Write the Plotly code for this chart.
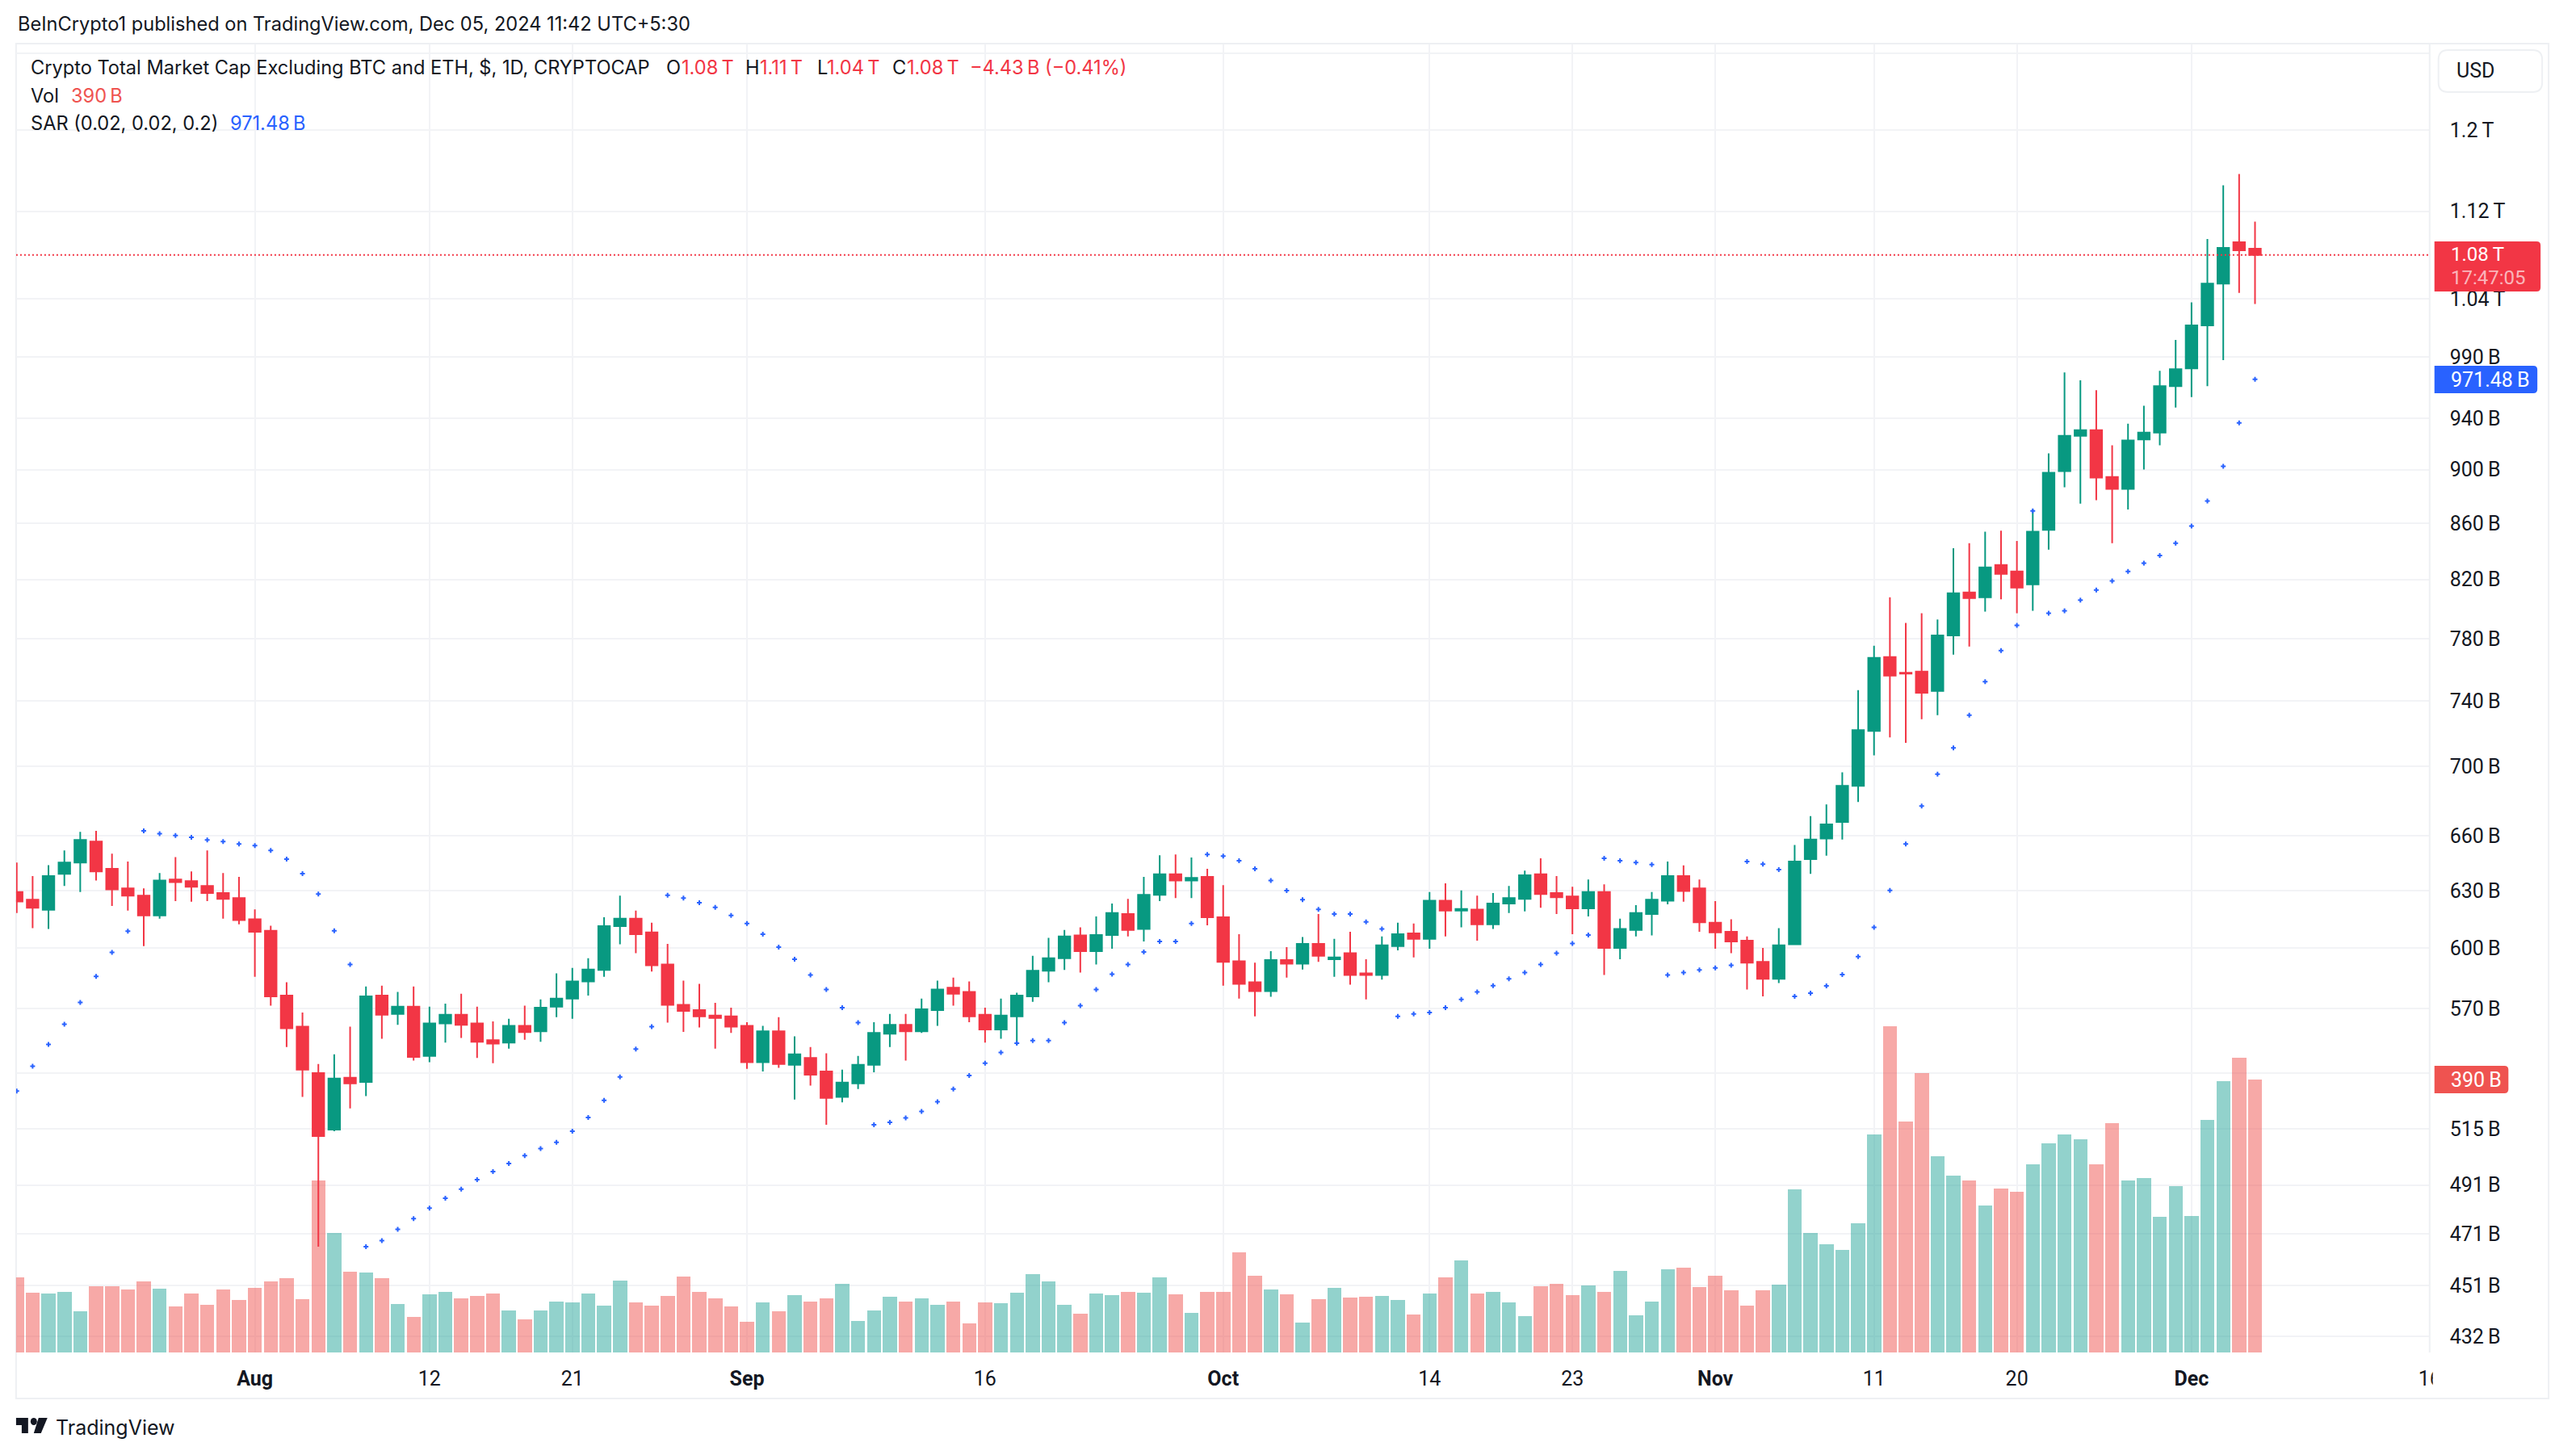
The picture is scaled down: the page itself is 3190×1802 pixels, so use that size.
import pandas as pd
import plotly.graph_objects as go

W, H = 3190, 1802
dates = pd.date_range("2024-07-17", periods=142, freq="D")

open_b = [629.3,625.2,619.9,639.0,645.2,656.8,641.8,631.2,627.4,616.9,
636,635.1,632.5,628.7,626.1,614.9,609,576.5,561.5,539.8,
514.6,537.7,535.8,576.5,567.6,571.1,547.7,563,567.2,563,
555.1,553.9,561.9,559.3,571.1,575,583.4,589.1,611.4,615.3,
608.1,591.8,571.9,569.4,566.8,566.4,561.9,544.8,559.3,543.6,
546.8,540.6,529,535.1,543.6,558.1,562.3,559.3,569.4,580.3,
578.2,567.2,560.1,566.4,576.1,588.7,595,606.6,598.5,606.8,
617.7,609.9,627.8,638.8,635.5,637.4,616,593.5,583,578.6,
594.1,592.2,602.2,594.5,597.5,587.4,586.6,601.1,607.6,604.8,
624.7,619.5,620,612.3,623.2,625.6,638.8,628.7,626.9,620.6,
629.3,600.2,609.4,617.7,624.7,637.8,631.2,613.1,608.5,603.9,
593.1,584.7,602,647.1,658.4,667.7,688.5,721.3,767.8,757.7,
758.5,746.1,782,811,807.7,830.1,825.5,816.6,855.1,898.8,
926,930.5,894.4,885.3,923.2,928.6,965.9,980.5,1016.8,1053.5,
1091.1,1085]

close_b = [624.3,621.0,637.8,645.2,657.7,640.4,630.7,627.4,616.9,635.5,
634.6,632.1,628.7,625.6,614.5,608.5,576.1,560.7,541.4,511.8,
537.3,535.1,576.1,567.2,571.1,547.3,563,567.2,562.3,554.3,
553.5,561.9,558.9,570.6,575,583.4,589.3,611.4,615.3,607.2,
591.4,571.9,569,566.4,565.6,561.5,544.8,559.3,544,548.5,
539.1,528.6,535.5,543.6,558.5,562.3,559.3,569.8,579.4,577.3,
566.4,560.1,566.8,576.5,588.7,595,606.1,598.5,606.8,618.2,
609.4,627.8,638.8,635.5,636.9,616,593.1,582.2,578.6,594.1,
592.2,602.2,596.2,595.4,586.6,586.6,601.5,607.2,604.8,624.7,
619.5,620.3,612.3,623.2,626.1,638.3,628.2,626.5,620.6,629.3,
600.2,609.9,618.2,625.2,637.8,629.8,613.4,608.1,603.5,592.7,
584.7,601.5,645.7,657.9,666.4,688.5,721.8,767.3,755.9,757.2,
745,782,810.5,807.1,828.4,823.8,814.4,853.9,897.5,926,
930.5,893.8,885.3,922.5,928.6,965.9,979.8,1016.8,1053.5,1085.8,
1083.6,1079.4]

high_b = [645.2,637.8,643.8,651.9,662.2,662.7,650.1,645.7,631.2,639.5,
648.2,640.4,651.9,639.5,637.4,620.1,611.6,583,568.2,544,
548.5,561.5,580.9,581.3,578.2,580.9,571.1,572.5,577.3,571.1,
564,565.2,571.5,574.6,587.4,590.1,595,616,627.4,619.5,
613.1,602.2,583.8,582.2,572.9,570.6,563.6,561.9,566,556.9,
551.9,548.9,541.4,547.7,563.6,567.6,567.6,575,583.8,585.3,
583.4,570.6,575,577.8,596.2,605.3,609.4,610.7,616.4,623.2,
625.6,637.4,649.2,649.6,648,641.8,633,607.2,592.7,598.5,
600.6,605.7,617.7,604.8,608.5,594.5,606.1,613.1,612.7,629.3,
633.9,630.2,627.4,628.7,632.5,640.8,647.5,637.8,632.1,636,
633.4,615.3,622.3,629.3,645.7,643.6,636,624.5,614.9,606.1,
600.2,610.3,654.9,671.1,677.8,696.4,746.6,775.2,807.7,790.3,
796.8,792.6,842,845.5,853.9,854.5,847.2,870,912.4,977.1,
970.6,962.5,918.7,935.6,949.9,978.4,1004.4,1036.8,1094.1,1145,
1156,1110.2]

low_b = [618.2,610.3,609.9,632.5,629.3,635.5,621.9,619.5,601.1,615.3,
624.5,624.1,624.5,615.3,612.3,585.7,571.5,551.9,529,466,
513.9,523.9,529.4,555.7,562.3,545.6,544.8,553.9,556.1,546.8,
544.4,551.1,555.3,554.3,566,565.2,576.5,585.7,602,597.5,
588.3,563.4,559,561.1,551.1,558.5,541.8,540.6,542.2,527.9,
534.1,516.7,526.6,532.6,540.2,551.9,545.6,558.5,561.9,571.5,
563.6,553.9,555.7,552.9,573.4,583,589.1,587.8,591.8,599.8,
606.1,603.5,624.5,626.1,626.1,611.8,581.3,575,566.4,575.9,
585.3,589.3,593.1,585.7,581.8,574.6,584.3,599,595.4,599.8,
606.1,610.7,603.9,609.9,618.2,619,621,617.7,607.2,616.4,
586.6,594.5,606.1,606.6,622.8,624.1,608.5,599.8,597.5,579.4,
576.1,582.6,602,639,649,657.9,679.2,706.5,717.3,714,
728.5,731,769.4,774.7,797.9,806.3,796.8,798.5,840.9,886.6,
874.4,876.9,845.5,870,900,918.7,948.5,957,965.9,987.3,
1045.3,1035.4]

sar_b = [531.7,543,553.1,562.6,573.1,585.9,597.9,608.8,662.7,661.2,
660.2,659.1,657.7,656.8,655.4,654.5,651.9,647.1,639.2,628.2,
609,591.8,466,468.4,472.9,477.2,481.5,485.5,489.3,493.2,
496.6,500,503.4,506.4,509.1,513.9,519.9,527.5,538.1,550.9,
561.5,627.6,626.1,623.6,621.2,616.9,612.7,607.2,600.6,594.5,
586.6,579.4,570.6,563.4,516.7,517.8,519.7,522.6,526.9,532.6,
538.7,544.4,549.3,553.7,554.9,554.9,563.4,571.5,579.4,587,
591.8,598.1,603.5,603.5,612.7,649.6,648.7,646.2,641.8,635.5,
630,625.2,620.1,617.7,617.7,613.6,609.9,566.4,567.6,568.2,
570.6,574.6,578.2,581.3,584.7,587.8,591.8,597.5,602.4,606.8,
647.5,646.2,645.2,644.1,586.6,587.8,589.1,590.1,591.4,645.7,
644.3,641.3,576.1,577.6,581.2,586.8,595.8,610.7,630.2,655.4,
676.8,695.4,711,731,752,772,788.7,869,796.8,798.5,
805.7,812.7,818.9,825.5,831.3,836.8,845.5,858,876.3,902.5,
936.2,971.48]

volume_b = [107.2,86,84.2,87.2,58.7,94.5,94.5,89.6,101.1,90.8,
65.4,84.2,67.8,89.6,74.5,92,101.1,106,75.7,246.5,
170.8,115.1,113.9,106,69,50.3,83,87.2,76.9,80.5,
84.8,60.6,47.8,60.6,73.3,72.1,84.8,66.6,102.3,72.1,
66.6,80.5,108.4,87.2,76.9,65.4,43.6,71.5,58.7,81.8,
73.3,76.9,98.7,44.8,60.6,79.3,73.3,76.9,67.8,73.3,
41.2,72.1,70.2,86,112.6,101.1,67.8,55.1,84.8,81.8,
87.2,86,107.2,83,56.3,87.2,87.2,142.9,110.2,89.6,
83,42.4,75.7,92,78.1,79.3,80.5,74.5,53.9,84.8,
107.2,131.4,84.8,87.2,72.1,51.5,94.5,98.7,81.8,95.7,
87.2,116.3,52.7,73.3,118.7,121.1,93.3,110.2,88.4,66.6,
88.4,97.5,233.2,171.4,154.4,147.2,185.3,311.3,466.3,330,
399.1,280.4,252.5,246.5,210.7,235,229.5,268.9,298.6,311.3,
304.6,268.9,327.6,246.5,248.9,193.8,237.4,195,332.5,387.6,
421.5,390]

price_ticks = [1280,1200,1120,1040,990,940,900,860,820,780,740,700,660,630,600,570,540,515,491,471,451,432]
price_labels = ["","1.2\u2009T","1.12\u2009T","1.04\u2009T","990\u2009B","940\u2009B","900\u2009B","860\u2009B","820\u2009B",
                "780\u2009B","740\u2009B","700\u2009B","660\u2009B","630\u2009B","600\u2009B","570\u2009B","","515\u2009B",
                "491\u2009B","471\u2009B","451\u2009B","432\u2009B"]
time_ticks = ["2024-08-01","2024-08-12","2024-08-21","2024-09-01","2024-09-16","2024-10-01","2024-10-14",
              "2024-10-23","2024-11-01","2024-11-11","2024-11-20","2024-12-01","2024-12-16"]
time_labels = ["<b>Aug</b>","12","21","<b>Sep</b>","16","<b>Oct</b>","14","23","<b>Nov</b>","11","20","<b>Dec</b>","16"]

GREEN, RED, BLUE, INK, GRID = "#089981", "#F23645", "#2962FF", "#131722", "#F2F3F6"
FONT = "Inter"
AXIS_FONT = "Roboto"
px = lambda x: x / W
py = lambda y: 1 - y / H

vol_colors = ["rgba(239,83,80,0.5)" if c < o else "rgba(38,166,154,0.5)" for o, c in zip(open_b, close_b)]
x_range = ["2024-07-16 23:00", "2024-12-16 00:00"]

fig = go.Figure()
fig.add_trace(go.Bar(x=dates, y=volume_b, marker=dict(color=vol_colors, line_width=0),
                     width=86400000 * 0.89, yaxis="y", name="Vol"))
fig.add_trace(go.Scatter(x=x_range, y=[close_b[-1], close_b[-1]], mode="lines", yaxis="y2",
                         line=dict(color=RED, width=2, dash="2px,3px"), name="Last"))
fig.add_trace(go.Candlestick(x=dates, open=open_b, high=high_b, low=low_b, close=close_b, yaxis="y2",
                             whiskerwidth=0, name="TOTAL3",
                             increasing=dict(line=dict(color=GREEN, width=2), fillcolor=GREEN),
                             decreasing=dict(line=dict(color=RED, width=2), fillcolor=RED)))
fig.add_trace(go.Scatter(x=dates, y=sar_b, mode="markers", yaxis="y2", name="SAR",
                         marker=dict(symbol="cross", size=5, color=BLUE, line_width=0)))


def ann(x, y, text, color=INK, size=23.6, anchor="left", family=FONT, **kw):
    return dict(x=px(x), y=py(y), xref="paper", yref="paper", text=text, showarrow=False, xanchor=anchor,
                yanchor="middle", align="left", font=dict(family=family, size=size, color=color), **kw)


def rrect(x0, y0, x1, y1, r, left=True):
    rl = r if left else 0
    pts = [f"M{px(x0+rl)},{py(y0)}", f"L{px(x1-r)},{py(y0)}", f"Q{px(x1)},{py(y0)} {px(x1)},{py(y0+r)}",
           f"L{px(x1)},{py(y1-r)}", f"Q{px(x1)},{py(y1)} {px(x1-r)},{py(y1)}", f"L{px(x0+rl)},{py(y1)}"]
    if left:
        pts += [f"Q{px(x0)},{py(y1)} {px(x0)},{py(y1-r)}", f"L{px(x0)},{py(y0+r)}", f"Q{px(x0)},{py(y0)} {px(x0+r)},{py(y0)}"]
    else:
        pts += [f"L{px(x0)},{py(y0)}"]
    return "".join(pts) + "Z"


def poly(points):
    return "M" + "L".join(f"{px(a)},{py(b)}" for a, b in points) + "Z"


shapes = [
    dict(type="rect", xref="paper", yref="paper", x0=px(20), x1=px(3170), y0=py(54), y1=py(1732),
         line=dict(color="#EEF0F3", width=2), layer="below"),
    dict(type="line", xref="paper", yref="paper", x0=px(3022), x1=px(3022), y0=py(54), y1=py(1675),
         line=dict(color="#EEF0F3", width=2)),
    dict(type="rect", xref="paper", yref="paper", x0=px(3026), x1=px(3070), y0=py(1685), y1=py(1728),
         fillcolor="white", line_width=0),
    dict(type="path", xref="paper", yref="paper", path=rrect(3033, 62, 3162, 114, 12),
         fillcolor="white", line=dict(color="#EEF0F3", width=2)),
    dict(type="path", xref="paper", yref="paper", path=rrect(3028, 299, 3160, 361, 5, left=False), fillcolor=RED, line_width=0),
    dict(type="path", xref="paper", yref="paper", path=rrect(3028, 453, 3156, 487, 5, left=False), fillcolor=BLUE, line_width=0),
    dict(type="path", xref="paper", yref="paper", path=rrect(3028, 1320, 3120, 1354, 5, left=False), fillcolor="#EF5350", line_width=0),
    dict(type="path", xref="paper", yref="paper", fillcolor=INK, line_width=0,
         path=poly([(20, 1756), (35, 1756), (35, 1775), (27, 1775), (27, 1765), (20, 1765)])),
    dict(type="circle", xref="paper", yref="paper", x0=px(38), x1=px(46), y0=py(1756), y1=py(1765),
         fillcolor=INK, line_width=0),
    dict(type="path", xref="paper", yref="paper", fillcolor=INK, line_width=0,
         path=poly([(48, 1756), (59, 1756), (51, 1775), (42, 1775)])),
]

annotations = [
    ann(20, 30, "BeInCrypto1 published on TradingView.com, Dec 05, 2024 11:42 UTC+5:30"),
    ann(36, 84, "Crypto Total Market Cap Excluding BTC and ETH, $, 1D, CRYPTOCAP"),
    ann(827, 84, "O"), ann(846, 84, "1.08\u2009T", RED),
    ann(925, 84, "H"), ann(943, 84, "1.11\u2009T", RED),
    ann(1014, 84, "L"), ann(1027, 84, "1.04\u2009T", RED),
    ann(1108, 84, "C"), ann(1126, 84, "1.08\u2009T", RED),
    ann(1204, 84, "\u22124.43\u2009B (\u22120.41%)", RED),
    ann(36, 119, "Vol"), ann(86, 119, "390\u2009B", "#EF5350"),
    ann(36, 153, "SAR (0.02, 0.02, 0.2)"), ann(284, 153, "971.48\u2009B", BLUE),
    ann(3053, 87, "USD", family=AXIS_FONT, size=25),
    ann(3046, 315, "1.08\u2009T", "white", family=AXIS_FONT, size=24),
    ann(3046, 344, "17:47:05", "rgba(255,255,255,0.65)", family=AXIS_FONT, size=24),
    ann(3046, 470, "971.48\u2009B", "white", family=AXIS_FONT, size=25),
    ann(3046, 1337, "390\u2009B", "white", family=AXIS_FONT, size=25),
    ann(67, 1768, "TradingView", "#131722", 25),
]

top, bottom = 55, 1675
fig.update_layout(
    width=W, height=H, margin=dict(l=0, r=0, t=0, b=0), autosize=False,
    paper_bgcolor="white", plot_bgcolor="white", showlegend=False, bargap=0,
    boxmode="overlay", boxgap=0.27, boxgroupgap=0, hovermode=False,
    font=dict(family=FONT, color=INK),
    xaxis=dict(domain=[px(20), px(3022)], type="date", range=x_range, rangeslider=dict(visible=False),
               tickmode="array", tickvals=time_ticks, ticktext=time_labels, showgrid=True, gridcolor=GRID,
               gridwidth=2, ticks="", ticklen=0, ticklabelstandoff=15, tickfont=dict(family=AXIS_FONT, size=25, color=INK),
               showline=False, zeroline=False),
    yaxis=dict(domain=[py(bottom), py(top)], range=[0, 1871], visible=False, fixedrange=True),
    yaxis2=dict(overlaying="y", side="right", anchor="x", type="log", range=[2.6295, 3.1106], autorange=False,
                tickmode="array", tickvals=price_ticks, ticktext=price_labels, showgrid=True, gridcolor=GRID,
                gridwidth=2, ticks="", ticklen=0, ticklabelstandoff=24, tickfont=dict(family=AXIS_FONT, size=25, color=INK),
                showline=False, zeroline=False),
    shapes=shapes, annotations=annotations,
)

fig.write_html("out.html", config={"displayModeBar": False}, post_script="document.body.style.margin='0';")
